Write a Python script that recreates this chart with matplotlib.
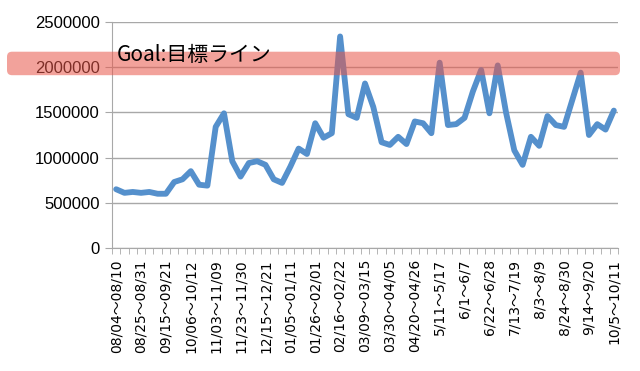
import matplotlib
matplotlib.use('Agg')
import matplotlib.pyplot as plt
from matplotlib.patches import FancyBboxPatch
import numpy as np

# weekly totals
values = [650000, 610000, 620000, 610000, 620000, 600000, 600000, 730000, 760000, 850000,
          700000, 690000, 1340000, 1490000, 960000, 790000, 940000, 960000, 920000, 760000,
          720000, 900000, 1100000, 1040000, 1380000, 1220000, 1270000, 2340000, 1480000, 1440000,
          1820000, 1560000, 1170000, 1140000, 1230000, 1150000, 1400000, 1380000, 1270000, 2050000,
          1360000, 1370000, 1440000, 1730000, 1970000, 1490000, 2020000, 1500000, 1080000, 920000,
          1230000, 1130000, 1460000, 1360000, 1340000, 1640000, 1940000, 1250000, 1370000, 1310000,
          1520000]

tick_labels = ['08/04～08/10', '08/25～08/31', '09/15～09/21', '10/06～10/12', '11/03～11/09',
               '11/23～11/30', '12/15～12/21', '01/05～01/11', '01/26～02/01', '02/16～02/22',
               '03/09～03/15', '03/30～04/05', '04/20～04/26', '5/11～5/17', '6/1～6/7',
               '6/22～6/28', '7/13～7/19', '8/3～8/9', '8/24～8/30', '9/14～9/20', '10/5～10/11']

goal = 2000000
goal_label = 'Goal:目標ライン'

plt.rcParams['font.family'] = ['Liberation Sans', 'Noto Sans CJK JP']

fig = plt.figure(figsize=(6.4, 3.71), dpi=100)
ax = fig.add_axes([112 / 640, 1 - 248 / 371, 506 / 640, 226 / 371])

x = np.arange(len(values))
ax.plot(x, values, color='#5590cc', linewidth=4.2, solid_joinstyle='round',
        solid_capstyle='round', zorder=3)

ax.set_xlim(-0.5, len(values) - 0.5)
ax.set_ylim(0, 2500000)
ax.set_yticks(np.arange(0, 2500001, 500000))
ax.set_yticklabels([str(v) for v in range(0, 2500001, 500000)], fontsize=12)
ax.grid(axis='y', color='#a8a8a8', linewidth=1)
ax.set_axisbelow(True)

ax.set_xticks(np.arange(0, len(values), 3))
ax.set_xticklabels(tick_labels, rotation=90, fontsize=10,
                   family=['DejaVu Sans', 'Noto Sans CJK JP'])
ax.set_xticks(np.arange(-0.5, len(values), 1), minor=True)
ax.tick_params(axis='x', which='major', length=0, pad=8)
ax.tick_params(axis='x', which='minor', length=4, color='#a8a8a8', direction='out')
ax.tick_params(axis='y', length=5, color='#a8a8a8', pad=4)

for side in ['top', 'right']:
    ax.spines[side].set_visible(False)
for side in ['left', 'bottom']:
    ax.spines[side].set_color('#a8a8a8')

# goal band over the whole width of the figure, sitting a little above the line
gy = ax.transData.transform((0, goal))[1]
band = FancyBboxPatch((7, gy - 8), 613, 23.5, boxstyle='round,pad=0,rounding_size=5',
                      transform=None, facecolor='#e8574a', edgecolor='none',
                      alpha=0.55, zorder=10)
fig.patches.append(band)

fig.text(117 / 640, 1 - 55 / 371, goal_label, fontsize=15, va='center', ha='left',
         family=['Noto Sans CJK JP'], zorder=11)

fig.savefig('out.png', dpi=100)
